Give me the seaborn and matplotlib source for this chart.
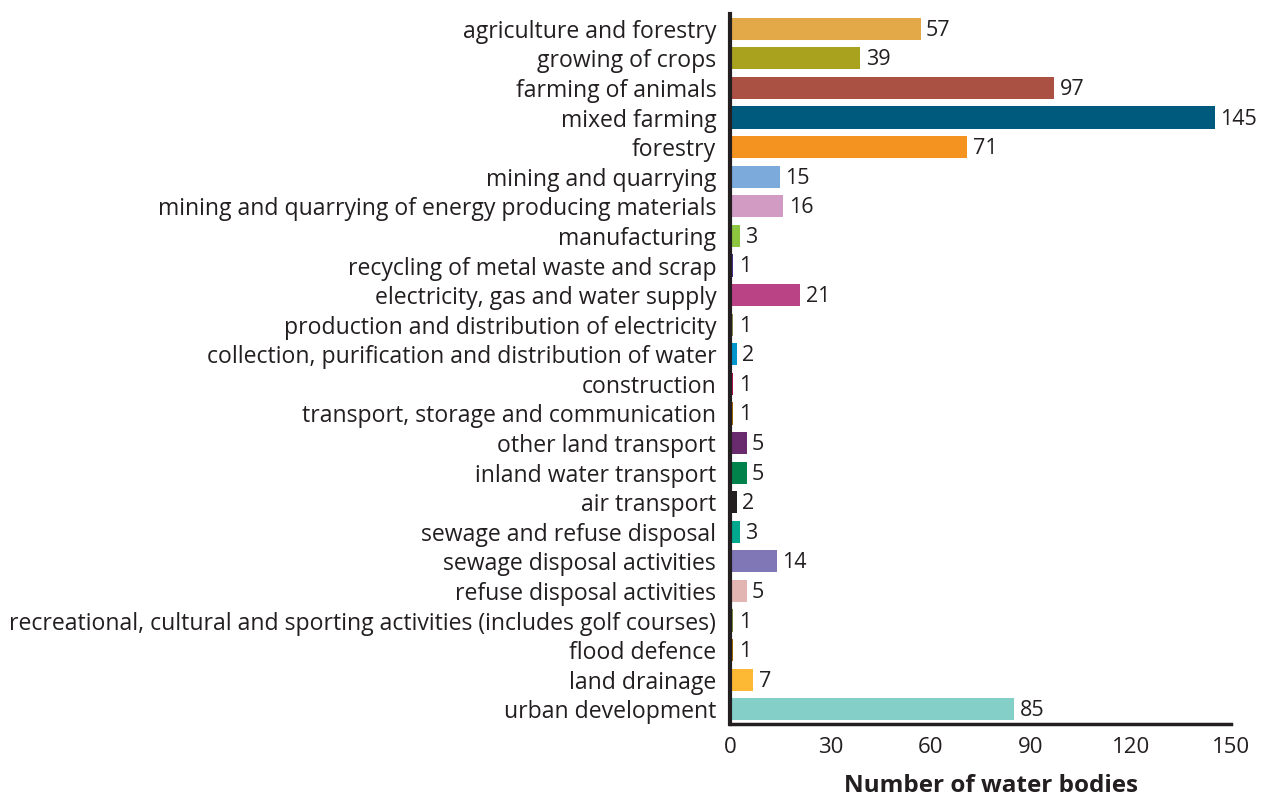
import matplotlib
matplotlib.use("Agg")
import matplotlib.pyplot as plt
import seaborn as sns
import pandas as pd

categories = [
    "agriculture and forestry", "growing of crops", "farming of animals", "mixed farming",
    "forestry", "mining and quarrying", "mining and quarrying of energy producing materials",
    "manufacturing", "recycling of metal waste and scrap", "electricity, gas and water supply",
    "production and distribution of electricity", "collection, purification and distribution of water",
    "construction", "transport, storage and communication", "other land transport",
    "inland water transport", "air transport", "sewage and refuse disposal",
    "sewage disposal activities", "refuse disposal activities",
    "recreational, cultural and sporting activities (includes golf courses)",
    "flood defence", "land drainage", "urban development",
]
values = [57, 39, 97, 145, 71, 15, 16, 3, 1, 21, 1, 2, 1, 1, 5, 5, 2, 3, 14, 5, 1, 1, 7, 85]
colors = [
    "#E3A948", "#A9A21F", "#AB5143", "#005A7E", "#F59320", "#7BAADB", "#D29BC3",
    "#8DC63F", "#4B2F8C", "#BA4386", "#8C8C4E", "#0095CC", "#B5124F", "#A66A00",
    "#6A2A6E", "#00824A", "#231F20", "#00A88E", "#8077B6", "#E2B5B3", "#7D8A3A",
    "#A66A00", "#FDB933", "#84D0C9",
]
xticks = [0, 30, 60, 90, 120, 150]

df = pd.DataFrame({"category": categories, "value": values})

sns.set_theme(style="white")
plt.rcParams["font.family"] = ["Open Sans", "DejaVu Sans"]

fig = plt.figure(figsize=(12.63, 8.01), dpi=100)
ax = fig.add_axes([0.578, 0.096, 0.397, 0.8865])

sns.barplot(data=df, y="category", x="value", hue="category",
            palette=dict(zip(categories, colors)), order=categories,
            legend=False, width=0.75, saturation=1, linewidth=0, ax=ax)

for i, v in enumerate(values):
    ax.text(v + 1.6, i + 0.05, str(v), va="center", ha="left", fontsize=15.5, color="#231F20")

ax.set_xlim(0, 150)
ax.set_ylim(23.5, -0.5)
ax.set_xticks(xticks)
ax.set_xticklabels([str(t) for t in xticks], fontsize=16, color="#231F20")
ax.tick_params(axis="y", labelsize=16.6, labelcolor="#231F20", length=0, pad=10)
ax.tick_params(axis="x", length=0, pad=9)
ax.set_ylabel("")
ax.set_xlabel("Number of water bodies", fontsize=17.5, fontweight="bold", color="#231F20")
ax.xaxis.set_label_coords(0.52, -0.07)

for s in ["top", "right"]:
    ax.spines[s].set_visible(False)
ax.spines["left"].set_linewidth(3)
ax.spines["bottom"].set_linewidth(2.5)
ax.spines["left"].set_color("#231F20")
ax.spines["bottom"].set_color("#231F20")

fig.savefig("out.png", dpi=100)
